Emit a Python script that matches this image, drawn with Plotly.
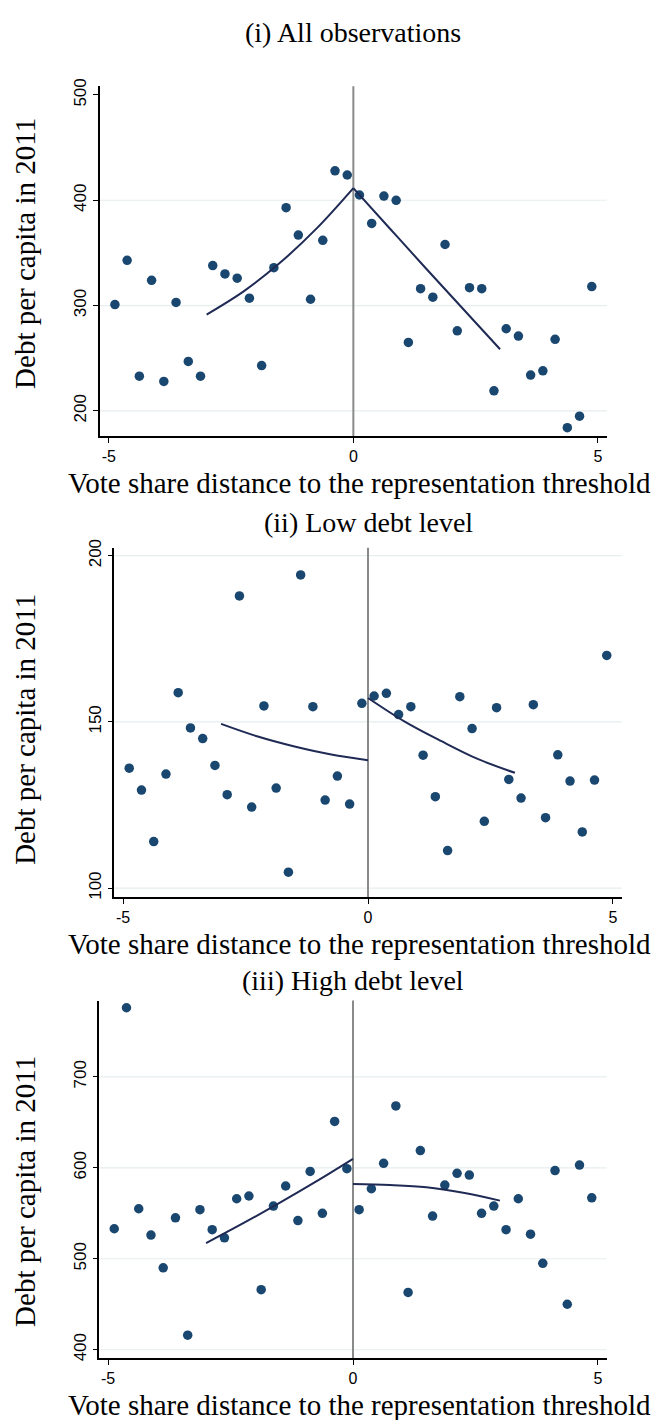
import plotly.graph_objects as go

W, H = 652, 1420

# Bin centres of the vote-share distance (0.25-point bins on each side of the threshold)
BIN_X = [-4.875, -4.625, -4.375, -4.125, -3.875, -3.625, -3.375, -3.125,
         -2.875, -2.625, -2.375, -2.125, -1.875, -1.625, -1.375, -1.125,
         -0.875, -0.625, -0.375, -0.125,
         0.125, 0.375, 0.625, 0.875, 1.125, 1.375, 1.625, 1.875,
         2.125, 2.375, 2.625, 2.875, 3.125, 3.375, 3.625, 3.875,
         4.125, 4.375, 4.625, 4.875]

# Binned means of debt per capita in 2011
ALL_OBS = [301, 343, 233, 324, 228, 303, 247, 233, 338, 330,
           326, 307, 243, 336, 393, 367, 306, 362, 428, 424,
           405, 378, 404, 400, 265, 316, 308, 358, 276, 317,
           316, 219, 278, 271, 234, 238, 268, 184, 195, 318]
LOW_DEBT = [136.1, 129.5, 114.0, 134.3, 158.8, 148.2, 145.0, 136.9, 128.1, 187.9,
            124.4, 154.8, 130.1, 104.8, 194.2, 154.6, 126.5, 133.7, 125.3, 155.6,
            157.8, 158.6, 152.2, 154.6, 140.0, 127.5, 111.3, 157.6, 148.0, 120.1,
            154.3, 132.7, 127.1, 155.2, 121.2, 140.1, 132.2, 116.9, 132.5, 170.0]
HIGH_DEBT = [533, 776, 555, 526, 490, 545, 416, 554, 532, 523,
             566, 569, 466, 558, 580, 542, 596, 550, 651, 599,
             554, 577, 605, 668, 463, 619, 547, 581, 594, 592,
             550, 558, 532, 566, 527, 495, 597, 450, 603, 567]

# Fitted polynomials within the +/-3 bandwidth
FIT_X_LEFT = [-3.0, -2.25, -1.5, -0.75, 0.0]
FIT_X_RIGHT = [0.0, 0.75, 1.5, 2.25, 3.0]
ALL_FIT_LEFT = [291.5, 313.3, 340.6, 373.3, 411.6]
ALL_FIT_RIGHT = [411.6, 373.0, 334.5, 296.5, 258.5]
LOW_FIT_LEFT = [149.4, 145.6, 142.6, 140.2, 138.5]
LOW_FIT_RIGHT = [157.2, 150.1, 144.2, 138.8, 134.7]
HIGH_FIT_LEFT = [517.2, 538.8, 561.4, 585.0, 609.8]
HIGH_FIT_RIGHT = [582.1, 581.0, 578.5, 572.5, 563.9]

TITLES = ["(i) All observations", "(ii) Low debt level", "(iii) High debt level"]
X_TITLE = "Vote share distance to the representation threshold"
Y_TITLE = "Debt per capita in 2011"
X_TICKS = [-5, 0, 5]
Y_TICKS = [[200, 300, 400, 500], [100, 150, 200], [400, 500, 600, 700]]
Y_GRID = [[200, 300, 400], [100, 150, 200], [400, 500, 600, 700]]
Y_RANGES = [[175.8, 508.2], [97.3, 202.4], [390.9, 783.9]]
X_RANGE = [-5.18, 5.18]

# Plot-area boxes in pixels: left, right, top, bottom
BOXES = [(100, 606.7, 78, 431), (114.3, 621.7, 543.3, 895.7), (99.3, 606.7, 1000, 1360.5)]
TITLE_Y = [24, 518, 980]
YTITLE_Y = [247, 727, 1193]

MARKER = "#1a476f"
FITLINE = "#1f2a55"
GRID = "#e6eeef"
SERIF = "Liberation Serif"
SANS = "Liberation Sans"

panels = [
    (ALL_OBS, ALL_FIT_LEFT, ALL_FIT_RIGHT),
    (LOW_DEBT, LOW_FIT_LEFT, LOW_FIT_RIGHT),
    (HIGH_DEBT, HIGH_FIT_LEFT, HIGH_FIT_RIGHT),
]


def px(x):
    return x / W


def py(y):
    return 1 - y / H


fig = go.Figure()
layout = dict(width=W, height=H, margin=dict(l=0, r=0, t=0, b=0),
              paper_bgcolor="white", plot_bgcolor="white", showlegend=False,
              annotations=[], shapes=[])

for i, (vals, fit_l, fit_r) in enumerate(panels):
    n = "" if i == 0 else str(i + 1)
    xa, ya = "x" + n, "y" + n
    left, right, top, bottom = BOXES[i]

    fig.add_trace(go.Scatter(x=BIN_X, y=vals, mode="markers", xaxis=xa, yaxis=ya,
                             marker=dict(color=MARKER, size=9.5, line=dict(width=0))))
    for fx, fy in ((FIT_X_LEFT, fit_l), (FIT_X_RIGHT, fit_r)):
        fig.add_trace(go.Scatter(x=fx, y=fy, mode="lines", xaxis=xa, yaxis=ya,
                                 line=dict(color=FITLINE, width=2, shape="spline")))

    layout["xaxis" + n] = dict(
        domain=[px(left), px(right)], anchor=ya, range=X_RANGE,
        tickvals=X_TICKS, ticktext=[str(v) for v in X_TICKS],
        showgrid=False, zeroline=False, showline=True, linecolor="black", linewidth=1.5,
        ticks="outside", ticklen=5, tickwidth=1.2, tickcolor="black",
        tickfont=dict(family=SANS, size=16, color="black"))
    layout["yaxis" + n] = dict(
        domain=[py(bottom), py(top)], anchor=xa, range=Y_RANGES[i],
        tickvals=Y_TICKS[i], ticktext=[str(v) for v in Y_TICKS[i]], tickangle=-90,
        showgrid=False, zeroline=False, showline=True, linecolor="black", linewidth=1.5,
        ticks="outside", ticklen=5, tickwidth=1.2, tickcolor="black",
        tickfont=dict(family=SANS, size=17, color="black"))

    # horizontal grid lines
    for g in Y_GRID[i]:
        layout["shapes"].append(dict(type="line", xref=xa + " domain", yref=ya,
                                     x0=0, x1=1, y0=g, y1=g, layer="below",
                                     line=dict(color=GRID, width=1.2)))
    # threshold line
    layout["shapes"].append(dict(type="line", xref=xa, yref=ya + " domain",
                                 x0=0, x1=0, y0=0, y1=1, layer="below",
                                 line=dict(color="#8a8a8a", width=2)))

    layout["annotations"].append(dict(
        text=TITLES[i], x=px((left + right) / 2), y=py(TITLE_Y[i]),
        xref="paper", yref="paper", xanchor="center", yanchor="middle", showarrow=False,
        borderpad=0, font=dict(family=SERIF, size=28, color="black")))
    layout["annotations"].append(dict(
        text=X_TITLE, x=px(359), y=py(bottom + 47),
        xref="paper", yref="paper", xanchor="center", yanchor="middle", showarrow=False,
        borderpad=0, font=dict(family=SERIF, size=29, color="black")))
    layout["annotations"].append(dict(
        text=Y_TITLE, x=px(25), y=py(YTITLE_Y[i]), textangle=-90,
        xref="paper", yref="paper", xanchor="center", yanchor="middle", showarrow=False,
        borderpad=0, font=dict(family=SERIF, size=29, color="black")))

fig.update_layout(**layout)
fig.write_html("out.html")
